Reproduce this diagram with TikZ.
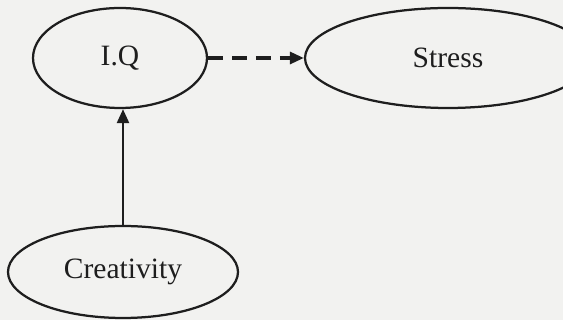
\documentclass[tikz,border=0pt]{standalone}
\usepackage{fontspec}
\setmainfont{Liberation Serif}
\usepackage{tikz}
\usetikzlibrary{arrows.meta}
\usetikzlibrary{shapes.geometric}

\definecolor{paper}{RGB}{242,242,240}
\definecolor{ink}{RGB}{30,30,30}

\begin{document}
\begin{tikzpicture} [var/.style={ellipse, draw=ink, line width=1.6pt, inner sep=0pt, font=\fontsize{21}{25}\selectfont, text=ink},
 conn/.style={ink, line width=1.9pt, -{Triangle[length=10pt, width=8.5pt]}}]
\fill[paper] (0,0) rectangle (14.075,8);
\clip (0,0) rectangle (14.075,8);

\node[var, minimum width=4.35cm, minimum height=2.5cm] (iq) at (3.0,6.55) {I.Q};
\node[var, minimum width=7.15cm, minimum height=2.5cm] (stress) at (11.2,6.55) {Stress};
\node[var, minimum width=5.75cm, minimum height=2.3cm] (creat) at (3.075,1.2) {Creativity};

\draw[conn, line width=2.3pt, dash pattern=on 10.5pt off 6.5pt] (iq) -- (stress);
\draw[conn] (creat.north) -- (creat.north |- iq.south);

\end{tikzpicture}
\end{document}
